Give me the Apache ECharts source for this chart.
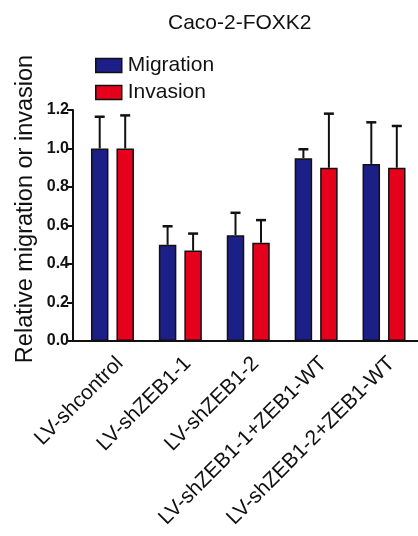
<!DOCTYPE html>
<html><head><meta charset="utf-8">
<script src="https://cdn.jsdelivr.net/npm/echarts@6/dist/echarts.min.js"></script>
<style>html,body{margin:0;padding:0;background:#fff}#c{width:418px;height:536px}</style>
</head><body><div id="c"></div>
<script>
const categories = ['LV-shcontrol','LV-shZEB1-1','LV-shZEB1-2','LV-shZEB1-1+ZEB1-WT','LV-shZEB1-2+ZEB1-WT'];
const migration = [1.00, 0.50, 0.55, 0.95, 0.92];
const migrationErr = [0.165, 0.096, 0.116, 0.046, 0.216];
const invasion = [1.00, 0.47, 0.51, 0.90, 0.90];
const invasionErr = [0.172, 0.088, 0.118, 0.281, 0.217];
const yTicks = [0, 0.2, 0.4, 0.6, 0.8, 1.0, 1.2];

const FONT = 'Arial, "Liberation Sans", sans-serif';
const chart = echarts.init(document.getElementById('c'), null, {renderer:'canvas'});
const BW = 17.5, GAP = 8, OFF = (BW + GAP) / 2;

function errSeries(name, vals, errs, off) {
  return {
    type: 'custom', name: name + ' err', xAxisIndex: 0, yAxisIndex: 0, z: 1,
    silent: true,
    data: vals.map((v, i) => [i, v, v + errs[i]]),
    renderItem: function (params, api) {
      const base = api.coord([api.value(0), api.value(1)]);
      const top = api.coord([api.value(0), api.value(2)]);
      const x = base[0] + off;
      return {
        type: 'group',
        children: [
          {type: 'line', shape: {x1: x, y1: base[1], x2: x, y2: top[1]}, style: {stroke: '#111', lineWidth: 2}},
          {type: 'line', shape: {x1: x - 5, y1: top[1], x2: x + 5, y2: top[1]}, style: {stroke: '#111', lineWidth: 2.5}}
        ]
      };
    }
  };
}

chart.setOption({
  animation: false,
  backgroundColor: '#fff',
  textStyle: {fontFamily: FONT},
  title: {
    text: 'Caco-2-FOXK2', left: 163, top: 8,
    textStyle: {fontFamily: FONT, fontSize: 21, fontWeight: 'normal', color: '#111'}
  },
  legend: {
    orient: 'vertical', left: 90, top: 50, itemWidth: 26, itemHeight: 14, itemGap: 6,
    icon: 'rect',
    data: ['Migration', 'Invasion'],
    itemStyle: {borderColor: '#111', borderWidth: 1.5},
    textStyle: {fontFamily: FONT, fontSize: 21, color: '#111', padding: [0, 0, 0, 1]}
  },
  grid: [
    {left: 78.5, right: -5.5, top: 110, bottom: 195},
    {left: 73, right: 0, top: 110, bottom: 195}
  ],
  xAxis: [
    {
      type: 'category', gridIndex: 0, data: categories,
      axisLine: {lineStyle: {color: '#111', width: 2}},
      axisTick: {alignWithLabel: true, length: 6, lineStyle: {color: '#111', width: 2}},
      axisLabel: {rotate: 45, fontFamily: FONT, fontSize: 21, color: '#111', margin: 12, interval: 0,
        verticalAlign: 'top'}
    },
    {
      type: 'value', gridIndex: 1, min: 0, max: 1,
      axisLine: {show: true, lineStyle: {color: '#111', width: 2}},
      axisTick: {show: false}, axisLabel: {show: false}, splitLine: {show: false}
    }
  ],
  yAxis: [
    {
      type: 'value', gridIndex: 0, min: 0, max: 1.2, interval: 0.2, offset: 5.5,
      axisLine: {show: true, lineStyle: {color: '#111', width: 2}},
      axisTick: {show: true, length: 6, lineStyle: {color: '#111', width: 2}},
      axisLabel: {fontFamily: FONT, fontSize: 16, fontWeight: 'bold', color: '#111', margin: 4,
        formatter: v => yTicks.indexOf(Math.round(v * 10) / 10) >= 0 ? v.toFixed(1) : ''},
      splitLine: {show: false}
    },
    {type: 'value', gridIndex: 1, show: false, min: 0, max: 1}
  ],
  graphic: [{
    type: 'text', x: 26, y: 209, rotation: Math.PI / 2,
    style: {text: 'Relative migration or invasion', fontFamily: FONT, fontSize: 23.5, fill: '#111',
      align: 'center', verticalAlign: 'middle'}
  }],
  series: [
    {
      name: 'Migration', type: 'bar', data: migration, barWidth: BW, barGap: (GAP / BW * 100) + '%', z: 2,
      itemStyle: {color: '#1c1f86', borderColor: '#111', borderWidth: 1.5}
    },
    {
      name: 'Invasion', type: 'bar', data: invasion, barWidth: BW, z: 2,
      itemStyle: {color: '#e5001b', borderColor: '#111', borderWidth: 1.5}
    },
    errSeries('Migration', migration, migrationErr, -OFF),
    errSeries('Invasion', invasion, invasionErr, OFF)
  ]
});
</script></body></html>
